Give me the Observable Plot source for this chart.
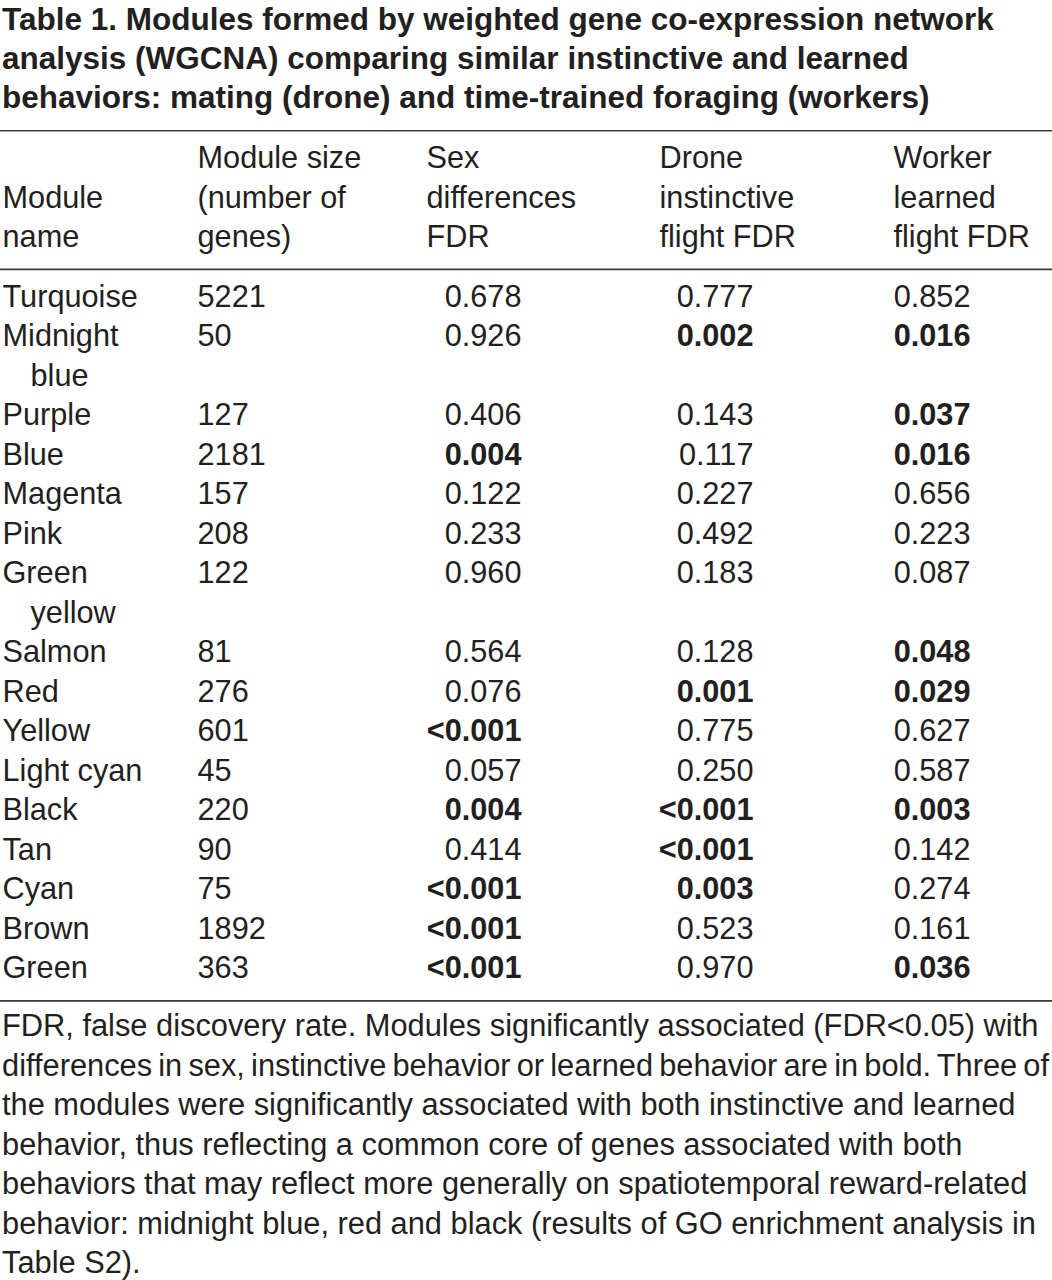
<!DOCTYPE html>
<html><head><meta charset="utf-8">
<script src="https://cdn.jsdelivr.net/npm/d3@7"></script>
<script src="https://cdn.jsdelivr.net/npm/@observablehq/plot@0.6"></script>
<style>
html,body{margin:0;padding:0;background:#fff;}
body{width:1052px;height:1280px;overflow:hidden;font-family:"Liberation Sans",Arial,Helvetica,sans-serif;color:#231f20;}
#title{font-weight:bold;font-size:31.5px;line-height:39px;height:120px;padding-left:2px;white-space:pre;}
#caption{font-size:30.8px;line-height:39.5px;padding-left:2px;white-space:pre;}
#chart svg{display:block;}
</style></head><body>
<div id="title"></div><div id="chart"></div><div id="caption"></div>
<script>
// ---------- data ----------
const titleLines = [
  "Table 1. Modules formed by weighted gene co-expression network",
  "analysis (WGCNA) comparing similar instinctive and learned",
  "behaviors: mating (drone) and time-trained foraging (workers)"
];
const headerLabels = [
  "Module\nname",
  "Module size\n(number of\ngenes)",
  "Sex\ndifferences\nFDR",
  "Drone\ninstinctive\nflight FDR",
  "Worker\nlearned\nflight FDR"
];
const moduleNames = ["Turquoise","Midnight blue","Purple","Blue","Magenta","Pink","Green yellow","Salmon","Red","Yellow","Light cyan","Black","Tan","Cyan","Brown","Green"];
const moduleSizes = ["5221","50","127","2181","157","208","122","81","276","601","45","220","90","75","1892","363"];
const sexFDR    = ["0.678","0.926","0.406","0.004","0.122","0.233","0.960","0.564","0.076","<0.001","0.057","0.004","0.414","<0.001","<0.001","<0.001"];
const droneFDR  = ["0.777","0.002","0.143","0.117","0.227","0.492","0.183","0.128","0.001","0.775","0.250","<0.001","<0.001","0.003","0.523","0.970"];
const workerFDR = ["0.852","0.016","0.037","0.016","0.656","0.223","0.087","0.048","0.029","0.627","0.587","0.003","0.142","0.274","0.161","0.036"];
const captionLines = [
  "FDR, false discovery rate. Modules significantly associated (FDR<0.05) with",
  "differences in sex, instinctive behavior or learned behavior are in bold. Three of",
  "the modules were significantly associated with both instinctive and learned",
  "behavior, thus reflecting a common core of genes associated with both",
  "behaviors that may reflect more generally on spatiotemporal reward-related",
  "behavior: midnight blue, red and black (results of GO enrichment analysis in",
  "Table S2)."
];
const significance = 0.05;

// ---------- layout ----------
const W = 1052, H = 886;
const fs = 30.7, step = 39.5, baseline0 = 186;
const colX = {name: 2, nameIndent: 30, size: 197};
const headerX = [2, 197, 426, 659, 893];
const fdrRight = [521, 753, 970];
const headerLastLine = -1.5;
const ruleLines = [-4.45, -0.94, 17.58];
const ink = "#231f20";

function fillLines(el, lines) {
  lines.forEach(t => {
    const d = document.createElement("div");
    const s = document.createElement("span");
    s.textContent = t;
    d.appendChild(s);
    el.appendChild(d);
    const w = s.getBoundingClientRect().width, maxW = W - 5;
    if (w > maxW) {
      const n = (t.match(/ /g) || []).length;
      if (n) s.style.wordSpacing = ((maxW - w) / n) + "px";
    }
  });
}
fillLines(document.getElementById("title"), titleLines);

// rows with wrapping of long names
let cur = 0;
const rows = moduleNames.map((name, i) => {
  const wrap = name.length > 10;
  const r = {i, name, wrap, line: cur};
  cur += wrap ? 2 : 1;
  return r;
});
const nameCells = rows.flatMap(r => {
  if (!r.wrap) return [{text: r.name, line: r.line, x: colX.name}];
  const k = r.name.lastIndexOf(" ");
  return [{text: r.name.slice(0, k), line: r.line, x: colX.name},
          {text: r.name.slice(k + 1), line: r.line + 1, x: colX.nameIndent}];
});
const sizeCells = rows.map(r => ({text: moduleSizes[r.i], line: r.line, x: colX.size}));
const fdrCells = [sexFDR, droneFDR, workerFDR].flatMap((arr, c) =>
  rows.map(r => {
    const t = arr[r.i];
    const bold = t.startsWith("<") || +t < significance;
    return {text: t, line: r.line, x: fdrRight[c], bold};
  }));
const headerCells = headerLabels.map((t, j) => ({text: t, line: headerLastLine, x: headerX[j]}));

const common = {x: "x", y: "line", text: "text", lineAnchor: "bottom", fontSize: fs, fill: ink, lineHeight: step / fs};

const chart = Plot.plot({
  width: W, height: H, margin: 0,
  style: {fontFamily: '"Liberation Sans", Arial, sans-serif', background: "white", color: ink},
  x: {type: "linear", domain: [0, W], range: [0, W], axis: null},
  y: {type: "linear", domain: [0, 1], range: [baseline0, baseline0 + step], axis: null},
  marks: [
    Plot.ruleY(ruleLines, {y: d => d, stroke: "#3a3a3a", strokeWidth: 1.7}),
    Plot.text(headerCells, {...common, textAnchor: "start"}),
    Plot.text(nameCells, {...common, textAnchor: "start"}),
    Plot.text(sizeCells, {...common, textAnchor: "start"}),
    Plot.text(fdrCells.filter(d => !d.bold), {...common, textAnchor: "end"}),
    Plot.text(fdrCells.filter(d => d.bold), {...common, textAnchor: "end", fontWeight: "bold"})
  ]
});
document.getElementById("chart").appendChild(chart);
fillLines(document.getElementById("caption"), captionLines);
</script>
</body></html>
